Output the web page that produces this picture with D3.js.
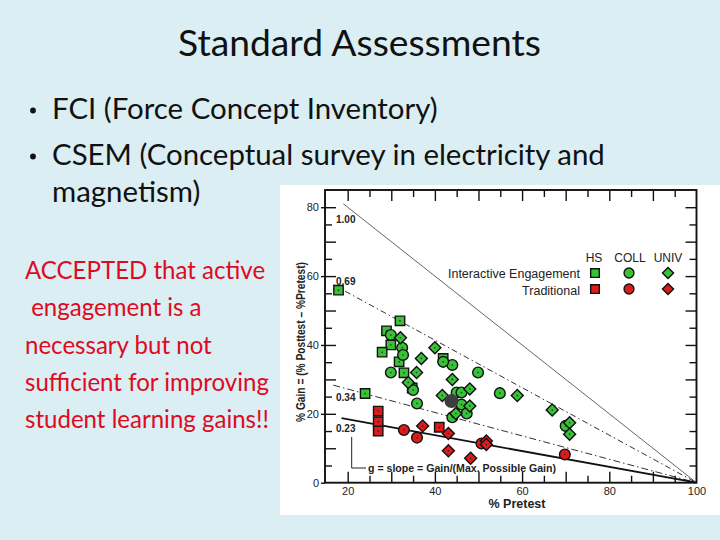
<!DOCTYPE html>
<html>
<head>
<meta charset="utf-8">
<script src="https://cdn.jsdelivr.net/npm/d3@7"></script>
<style>
html, body { margin: 0; padding: 0; background: #daeef3; }
svg { display: block; }
</style>
</head>
<body>
<svg id="slide" width="720" height="540"></svg>
<script>
// points: [% pretest, % gain]
var hsIE = [[17.9, 55.9], [32.0, 47.0], [28.9, 44.1], [29.9, 40.0], [27.9, 37.9],
            [31.8, 35.1], [32.9, 31.9], [24.0, 25.9], [41.9, 36.1], [34.8, 27.5]];
var collIE = [[29.9, 42.9], [32.5, 39.2], [32.7, 37.1], [29.9, 32.0], [35.0, 26.9],
              [35.9, 23.0], [44.0, 34.2], [49.9, 32.0], [41.9, 35.1], [45.0, 26.2],
              [46.1, 26.2], [46.1, 22.7], [44.0, 19.0], [47.3, 20.1], [54.9, 26.0],
              [70.0, 16.5]];
var univIE = [[32.1, 42.1], [36.9, 36.1], [35.8, 32.0], [33.9, 29.1], [40.0, 39.2],
              [41.7, 25.3], [44.0, 30.0], [44.8, 20.1], [48.0, 27.2], [48.0, 22.3],
              [58.9, 25.3], [66.9, 21.1], [70.9, 17.4], [70.9, 14.1]];
var hsTrad = [[27.0, 20.8], [27.0, 17.7], [27.0, 15.0], [41.0, 16.1]];
var collTrad = [[32.9, 15.3], [35.9, 13.1], [50.7, 11.4], [69.8, 8.2]];
var univTrad = [[37.2, 16.5], [43.1, 14.3], [43.1, 9.3], [48.2, 7.1], [51.8, 12.1], [51.8, 11.1]];
var average = [[43.8, 23.7]];

var gValues = [1.00, 0.69, 0.34, 0.23];
var gStart = [19.0, 16.7, 16.7, 18.6];      // pretest where each g line begins
var xTickLabels = [20, 40, 60, 80, 100];
var yTickLabels = [0, 20, 40, 60, 80];
var legendCols = ["HS", "COLL", "UNIV"];
var legendRows = ["Interactive Engagement", "Traditional"];

var title = "Standard Assessments";
var bullets = ["FCI (Force Concept Inventory)", "CSEM (Conceptual survey in electricity and", "magnetism)"];
var note = ["ACCEPTED that active", " engagement is a", "necessary but not", "sufficient for improving", "student learning gains!!"];

var svg = d3.select("#slide");
var slideFont = "Lato, 'Open Sans', sans-serif";
var chartFont = "'Liberation Sans', Arial, sans-serif";

// set the font size so the line spans about the width of the original
function fit(sel, width) {
    var fs = +sel.attr("font-size");
    var w = sel.node().getComputedTextLength();
    sel.attr("font-size", (fs * width / w).toFixed(2));
}

///////////////////////
// slide text
///////////////////////

svg.append("text")
    .attr("x", 359.5).attr("y", 56)
    .attr("text-anchor", "middle")
    .attr("font-family", slideFont).attr("font-size", 32)
    .attr("fill", "#111")
    .text(title)
    .call(fit, 363);

var bl = svg.append("g").attr("font-family", slideFont).attr("fill", "#111");
var bLines = bl.selectAll("text.b").data(bullets).enter().append("text")
    .attr("class", "b")
    .attr("x", 52)
    .attr("y", function(d, i) { return [119, 165, 202][i]; })
    .attr("font-size", 24)
    .text(function(d) { return d; });
fit(bLines.filter(function(d, i) { return i == 1; }), 553);
bLines.attr("font-size", bLines.filter(function(d, i) { return i == 1; }).attr("font-size"));

bl.selectAll("circle").data([119, 165]).enter().append("circle")
    .attr("cx", 33).attr("cy", function(d) { return d - 8.5; }).attr("r", 2.9)
    .attr("fill", "#111");

var nt = svg.append("g").attr("font-family", slideFont).attr("fill", "#df0a1e");
var nLines = nt.selectAll("text").data(note).enter().append("text")
    .attr("x", 25)
    .attr("y", function(d, i) { return 279 + i * 37.3; })
    .attr("font-size", 21)
    .attr("xml:space", "preserve")
    .style("white-space", "pre")
    .text(function(d) { return d; });
fit(nLines.filter(function(d, i) { return i == 3; }), 244);
nLines.attr("font-size", nLines.filter(function(d, i) { return i == 3; }).attr("font-size"));

///////////////////////
// the scanned chart
///////////////////////

var ch = svg.append("g").attr("font-family", chartFont);
ch.append("rect").attr("x", 280).attr("y", 185).attr("width", 440).attr("height", 330).attr("fill", "#fff");

var x = d3.scaleLinear().domain([14.8, 100]).range([325, 696.5]);
var y = d3.scaleLinear().domain([0, 85]).range([482.7, 190]);

var minorX = d3.range(25, 100, 10), majorX = d3.range(20, 100, 10);
var minorY = d3.range(5, 85, 10), majorY = d3.range(10, 85, 10);

function ticks(axis, vals, len) {
    return axis.tickValues(vals).tickSize(-len).tickFormat("");
}

[[d3.axisBottom, y(0)], [d3.axisTop, y(85)]].forEach(function(a) {
    ch.append("g").attr("transform", "translate(0," + a[1] + ")").call(ticks(a[0](x), minorX, 7));
    ch.append("g").attr("transform", "translate(0," + a[1] + ")").call(ticks(a[0](x), majorX, 11));
});
[[d3.axisLeft, x(14.8)], [d3.axisRight, x(100)]].forEach(function(a) {
    ch.append("g").attr("transform", "translate(" + a[1] + ",0)").call(ticks(a[0](y), minorY, 7));
    ch.append("g").attr("transform", "translate(" + a[1] + ",0)").call(ticks(a[0](y), majorY, 11));
});

ch.append("g").attr("class", "lab")
    .attr("transform", "translate(0," + y(0) + ")")
    .call(d3.axisBottom(x).tickValues(xTickLabels).tickSize(0).tickPadding(5));
ch.append("g").attr("class", "lab")
    .attr("transform", "translate(" + x(14.8) + ",0)")
    .call(d3.axisLeft(y).tickValues(yTickLabels).tickSize(4).tickPadding(2));

ch.selectAll(".domain").remove();
ch.selectAll(".tick line").attr("stroke", "#111").attr("stroke-width", 1.4);
ch.selectAll(".lab text").attr("font-size", 11).attr("fill", "#222").attr("font-family", chartFont);

ch.append("rect")
    .attr("x", x(14.8)).attr("y", y(85))
    .attr("width", x(100) - x(14.8)).attr("height", y(0) - y(85))
    .attr("fill", "none").attr("stroke", "#111").attr("stroke-width", 1.9);

// constant-g lines
var gStyle = {
    "1": { dash: null, width: 0.9, color: "#555", label: 76.5 },
    "0.69": { dash: "6,3,1.5,3", width: 1, color: "#333", label: 58.3 },
    "0.34": { dash: "7,3,1.5,3", width: 1, color: "#333", label: 24.6 },
    "0.23": { dash: null, width: 1.8, color: "#111", label: 15.6 }
};
var gl = ch.selectAll("g.gline").data(gValues).enter().append("g").attr("class", "gline");
gl.append("line")
    .attr("x1", function(d, i) { return x(gStart[i]); })
    .attr("y1", function(d, i) { return y(d * (100 - gStart[i])); })
    .attr("x2", x(100)).attr("y2", y(0))
    .attr("stroke", function(d) { return gStyle[d].color; })
    .attr("stroke-width", function(d) { return gStyle[d].width; })
    .attr("stroke-dasharray", function(d) { return gStyle[d].dash; });
gl.append("text")
    .attr("x", 336).attr("y", function(d) { return y(gStyle[d].label) + 3.5; })
    .attr("font-size", 10).attr("font-weight", "bold").attr("fill", "#222")
    .text(function(d) { return d.toFixed(2); });

// g annotation
ch.append("path")
    .attr("d", "M351.7,437V468H366")
    .attr("fill", "none").attr("stroke", "#222").attr("stroke-width", 1);
ch.append("text")
    .attr("x", 368).attr("y", 471.5)
    .attr("font-size", 10).attr("font-weight", "bold").attr("fill", "#222")
    .attr("textLength", 188).attr("lengthAdjust", "spacingAndGlyphs")
    .text("g = slope  = Gain/(Max. Possible Gain)");

// axis titles
ch.append("text")
    .attr("x", 517).attr("y", 508)
    .attr("text-anchor", "middle")
    .attr("font-size", 12.5).attr("font-weight", "bold").attr("fill", "#222")
    .text("% Pretest");
ch.append("text")
    .attr("transform", "translate(304.5,342) rotate(-90)")
    .attr("text-anchor", "middle")
    .attr("font-size", 12.5).attr("font-weight", "bold").attr("fill", "#222")
    .attr("textLength", 160).attr("lengthAdjust", "spacingAndGlyphs")
    .text("% Gain = (% Posttest \u2013 %Pretest)");

// markers
var green = "#38c238", red = "#de1b1b";
var shapes = {
    square: d3.symbol().type(d3.symbolSquare).size(88),
    circle: d3.symbol().type(d3.symbolCircle).size(90),
    diamond: d3.symbol().type(d3.symbolSquare).size(72)
};
var series = [
    { data: hsIE, shape: "square", fill: green },
    { data: collIE, shape: "circle", fill: green },
    { data: univIE, shape: "diamond", fill: green },
    { data: hsTrad, shape: "square", fill: red },
    { data: collTrad, shape: "circle", fill: red },
    { data: univTrad, shape: "diamond", fill: red }
];

function marker(sel, s, k) {
    sel.append("path")
        .attr("d", d3.symbol().type(s.shape == "circle" ? d3.symbolCircle : d3.symbolSquare)
            .size(shapes[s.shape].size()() * (k || 1))())
        .attr("transform", s.shape == "diamond" ? "rotate(45)" : null)
        .attr("fill", s.fill).attr("stroke", "#111").attr("stroke-width", 1.4);
}

series.forEach(function(s) {
    var pts = ch.append("g").selectAll("g").data(s.data).enter().append("g")
        .attr("transform", function(d) { return "translate(" + x(d[0]) + "," + y(d[1]) + ")"; });
    marker(pts, s);
    pts.append("circle").attr("r", 0.8).attr("fill", "#222");
});

ch.selectAll("circle.avg").data(average).enter().append("circle")
    .attr("class", "avg")
    .attr("cx", function(d) { return x(d[0]); })
    .attr("cy", function(d) { return y(d[1]); })
    .attr("r", 7).attr("fill", "#3c3c3c");

// legend
var lg = ch.append("g").attr("fill", "#222");
lg.selectAll("text.col").data(legendCols).enter().append("text")
    .attr("class", "col")
    .attr("x", function(d, i) { return [594, 630, 668][i]; })
    .attr("y", 262)
    .attr("text-anchor", "middle").attr("font-size", 12)
    .text(function(d) { return d; });
lg.selectAll("text.row").data(legendRows).enter().append("text")
    .attr("class", "row")
    .attr("x", 580)
    .attr("y", function(d, i) { return [277.5, 294.5][i]; })
    .attr("text-anchor", "end").attr("font-size", 12.5)
    .text(function(d) { return d; });

series.forEach(function(s, i) {
    var g = lg.append("g")
        .attr("transform", "translate(" + [595, 629, 668][i % 3] + "," + [273, 289][Math.floor(i / 3)] + ")");
    marker(g, s, 0.85);
});
</script>
</body>
</html>
